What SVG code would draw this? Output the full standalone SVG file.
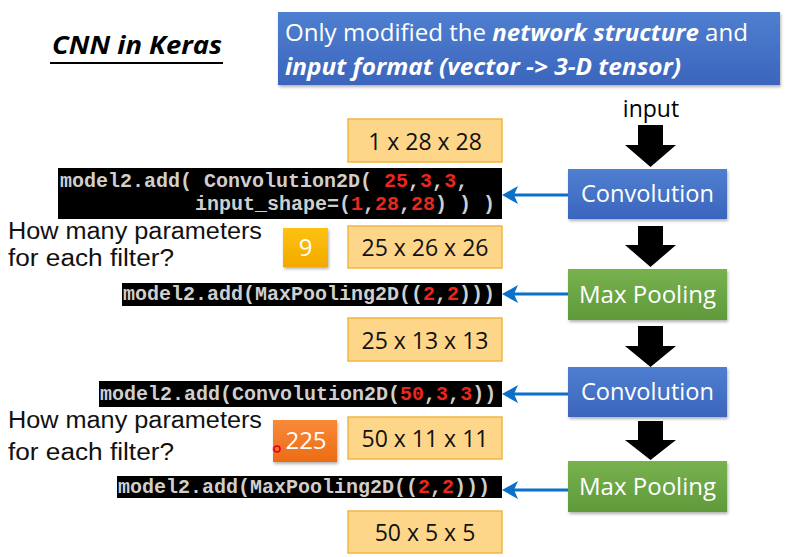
<svg xmlns="http://www.w3.org/2000/svg" width="807" height="557" viewBox="0 0 807 557">
<defs>
<linearGradient id="gBlue" x1="0" y1="0" x2="0" y2="1"><stop offset="0" stop-color="#4f7fd0"/><stop offset="1" stop-color="#3b65bd"/></linearGradient>
<linearGradient id="gGreen" x1="0" y1="0" x2="0" y2="1"><stop offset="0" stop-color="#78b14f"/><stop offset="1" stop-color="#5f9a3a"/></linearGradient>
<linearGradient id="gGold" x1="0" y1="0" x2="0" y2="1"><stop offset="0" stop-color="#ffc20e"/><stop offset="1" stop-color="#f2a900"/></linearGradient>
<linearGradient id="gOrange" x1="0" y1="0" x2="0" y2="1"><stop offset="0" stop-color="#f9893a"/><stop offset="1" stop-color="#ec6c14"/></linearGradient>
<filter id="sh" x="-10%" y="-10%" width="130%" height="140%"><feDropShadow dx="1" dy="2" stdDeviation="1.5" flood-color="#000" flood-opacity="0.3"/></filter>
<path id="bhead" d="M0,0 L16,-9 L12,0 L16,9 Z" fill="#0a70c8"/>
</defs>
<style>
.ui{font-family:"Open Sans","Liberation Sans",sans-serif;}
.code{font-family:"Liberation Mono","DejaVu Sans Mono",monospace;font-weight:bold;font-size:20px;fill:#cfcfcf;}
.r{fill:#e8281e;}
.codebox{fill:#000;}
.dim{fill:#fdd68a;stroke:#f2b640;stroke-width:1.5;}
.dimt{font-family:"Open Sans","Liberation Sans",sans-serif;font-size:23px;fill:#111;text-anchor:middle;}
.wt{font-family:"Open Sans","Liberation Sans",sans-serif;font-size:24px;fill:#fff;text-anchor:middle;}
.q{font-family:"Liberation Sans","Open Sans",sans-serif;font-size:23px;fill:#111;}
.conn{stroke:#0a70c8;stroke-width:3;fill:none;}
.blk{fill:#000;}
</style>

<g id="title">
<text x="52" y="54" class="ui" font-size="24.5" font-weight="bold" font-style="italic" fill="#000" textLength="170" lengthAdjust="spacingAndGlyphs">CNN in Keras</text>
<rect x="50" y="62" width="173" height="2" fill="#000"/>
</g>

<g id="banner">
<rect x="278" y="12" width="502" height="73" fill="url(#gBlue)" filter="url(#sh)"/>
<text x="285" y="41" class="ui" font-size="24" fill="#fff" textLength="463" lengthAdjust="spacingAndGlyphs">Only modified the <tspan font-weight="bold" font-style="italic">network structure</tspan> and</text>
<text x="285" y="75" class="ui" font-size="24" fill="#fff" font-weight="bold" font-style="italic" textLength="396" lengthAdjust="spacingAndGlyphs">input format (vector -&gt; 3-D tensor)</text>
</g>

<g id="input">
<text x="651" y="117" class="ui" font-size="23" fill="#000" text-anchor="middle">input</text>
</g>

<g id="conv1">
<rect x="568" y="169" width="159" height="50" fill="url(#gBlue)" filter="url(#sh)"/>
<text x="647.5" y="202" class="wt" textLength="133" lengthAdjust="spacingAndGlyphs">Convolution</text>
</g>
<g id="pool1">
<rect x="568" y="269" width="159" height="51" fill="url(#gGreen)" filter="url(#sh)"/>
<text x="647.5" y="303" class="wt" textLength="137" lengthAdjust="spacingAndGlyphs">Max Pooling</text>
</g>
<g id="conv2">
<rect x="568" y="367" width="159" height="50" fill="url(#gBlue)" filter="url(#sh)"/>
<text x="647.5" y="400" class="wt" textLength="133" lengthAdjust="spacingAndGlyphs">Convolution</text>
</g>
<g id="pool2">
<rect x="568" y="461" width="159" height="51" fill="url(#gGreen)" filter="url(#sh)"/>
<text x="647.5" y="495" class="wt" textLength="137" lengthAdjust="spacingAndGlyphs">Max Pooling</text>
</g>

<g id="dim1"><rect x="348" y="119" width="154" height="43" class="dim"/><text x="425" y="150" class="dimt">1 x 28 x 28</text></g>
<g id="dim2"><rect x="348" y="226" width="154" height="42" class="dim"/><text x="425" y="256" class="dimt">25 x 26 x 26</text></g>
<g id="dim3"><rect x="348" y="318" width="154" height="43" class="dim"/><text x="425" y="349" class="dimt">25 x 13 x 13</text></g>
<g id="dim4"><rect x="348" y="417" width="154" height="42" class="dim"/><text x="425" y="447" class="dimt">50 x 11 x 11</text></g>
<g id="dim5"><rect x="348" y="511" width="154" height="42" class="dim"/><text x="425" y="541" class="dimt">50 x 5 x 5</text></g>

<g id="code1">
<rect x="58" y="168" width="444" height="51" class="codebox"/>
<text x="60" y="187" class="code">model2.add( Convolution2D( <tspan class="r">25</tspan>,<tspan class="r">3</tspan>,<tspan class="r">3</tspan>,</text>
<text x="195" y="210" class="code">input_shape=(<tspan class="r">1</tspan>,<tspan class="r">28</tspan>,<tspan class="r">28</tspan>) ) )</text>
</g>
<g id="code2">
<rect x="122" y="283" width="380" height="23" class="codebox"/>
<text x="123" y="300" class="code">model2.add(MaxPooling2D((<tspan class="r">2</tspan>,<tspan class="r">2</tspan>)))</text>
</g>
<g id="code3">
<rect x="99" y="381" width="403" height="26" class="codebox"/>
<text x="100" y="400" class="code">model2.add(Convolution2D(<tspan class="r">50</tspan>,<tspan class="r">3</tspan>,<tspan class="r">3</tspan>))</text>
</g>
<g id="code4">
<rect x="117" y="476" width="385" height="22" class="codebox"/>
<text x="118" y="493" class="code">model2.add(MaxPooling2D((<tspan class="r">2</tspan>,<tspan class="r">2</tspan>)))</text>
</g>

<g id="q1">
<text x="8" y="239" class="q" textLength="254" lengthAdjust="spacingAndGlyphs">How many parameters</text>
<text x="8" y="266" class="q" textLength="166" lengthAdjust="spacingAndGlyphs">for each filter?</text>
</g>
<g id="ans1">
<rect x="283" y="228" width="45" height="39" fill="url(#gGold)" filter="url(#sh)"/>
<text x="305.5" y="256" class="wt" font-size="22">9</text>
</g>
<g id="q2">
<text x="8" y="428" class="q" textLength="254" lengthAdjust="spacingAndGlyphs">How many parameters</text>
<text x="8" y="460" class="q" textLength="166" lengthAdjust="spacingAndGlyphs">for each filter?</text>
</g>
<g id="ans2">
<rect x="273" y="420" width="64" height="42" fill="url(#gOrange)" filter="url(#sh)"/>
<text x="306" y="449" class="wt" font-size="23">225</text>
<circle cx="277" cy="449" r="5" fill="#ff6060" opacity="0.35"/>
<circle cx="277" cy="449" r="3" fill="none" stroke="#e00010" stroke-width="1.5"/>
</g>

<g id="connectors">
<polygon class="blk" points="638,125 663,125 663,145 676,145 650.5,167 625,145 638,145"/>
<polygon class="blk" points="638,226 663,226 663,245 676,245 650.5,267 625,245 638,245"/>
<polygon class="blk" points="638,326 663,326 663,346 676,346 650.5,367 625,346 638,346"/>
<polygon class="blk" points="638,421 663,421 663,440 676,440 650.5,460 625,440 638,440"/>
<line x1="568" y1="195" x2="514" y2="195" class="conn"/>
<use href="#bhead" x="502" y="195"/>
<line x1="568" y1="294" x2="514" y2="294" class="conn"/>
<use href="#bhead" x="502" y="294"/>
<line x1="568" y1="394" x2="514" y2="394" class="conn"/>
<use href="#bhead" x="502" y="394"/>
<line x1="568" y1="490" x2="514" y2="490" class="conn"/>
<use href="#bhead" x="502" y="490"/>
</g>
</svg>
